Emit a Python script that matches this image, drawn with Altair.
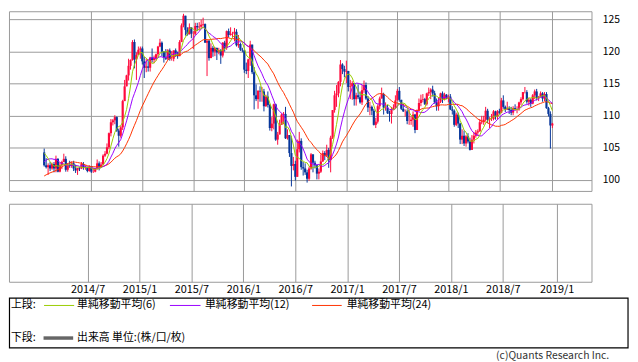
import altair as alt
import pandas as pd

FONT = "Noto Sans CJK JP"
RED = "#ff0a3c"
BLUE = "#06369a"
GREEN = "#99cc00"
PURPLE = "#9900ff"
ORANGE = "#ff3300"
GRID = "#999999"

# weekly closes before the first drawn candle (used only for the moving averages)
pre_close = [97.5, 98.7, 98.1, 99.6, 99.4, 99.4, 98.3, 97.5, 98.6, 97.7, 97.4, 98.7, 99.1,
             100.2, 101.3, 102.4, 102.9, 103.2, 104.1, 105.2, 104.9, 104.2, 104.3]

close_2014 = [102.3, 102.0, 102.3, 101.8, 102.5, 101.8, 103.3, 101.3, 102.3, 102.8, 103.3, 101.6, 102.4,
              102.2, 102.6, 101.8, 101.5, 101.9, 101.8, 102.5, 102.0, 102.0, 101.4, 102.1, 101.3, 101.3,
              101.8, 102.6, 102.0, 102.4, 103.8, 104.1, 105.1, 107.3, 109.0, 109.3, 109.8, 107.7, 106.9,
              108.2, 112.3, 114.6, 116.3, 117.8, 118.7, 121.5, 118.8, 119.5, 120.3, 120.5]
high_2014 = [104.9, 103.4, 102.6, 102.8, 102.7, 102.8, 103.8, 103.4, 102.7, 103.0, 104.1, 103.7, 102.6,
             103.0, 102.9, 103.0, 102.4, 101.9, 102.0, 102.8, 102.8, 102.3, 102.1, 102.3, 102.2, 101.9,
             101.9, 103.2, 102.9, 102.8, 104.0, 104.5, 105.7, 107.4, 109.5, 109.5, 110.1, 109.9, 108.0,
             108.4, 112.5, 115.6, 116.4, 118.9, 118.8, 121.8, 121.9, 119.9, 120.8, 120.8]
low_2014 = [102.1, 101.8, 100.8, 101.4, 101.6, 101.2, 101.2, 101.2, 101.2, 101.7, 102.8, 101.3, 101.3,
            101.9, 101.9, 101.4, 101.1, 100.8, 101.4, 101.7, 101.6, 101.6, 101.2, 101.3, 101.1, 101.1,
            101.2, 101.6, 101.5, 102.0, 102.4, 103.6, 104.0, 104.8, 106.8, 108.5, 108.7, 107.5, 105.2,
            106.6, 107.8, 112.6, 114.6, 115.5, 117.2, 118.6, 117.4, 115.6, 119.5, 118.9]

close_2015 = [118.5, 117.5, 117.7, 117.5, 119.1, 118.7, 119.0, 119.6, 120.8, 121.4, 120.0, 119.1, 118.9,
              120.2, 118.9, 118.9, 120.2, 119.8, 119.3, 121.5, 124.1, 125.6, 123.4, 122.7, 123.8, 122.8,
              122.8, 124.0, 123.8, 123.9, 124.2, 124.3, 121.4, 121.7, 119.0, 120.6, 120.0, 120.6, 119.9,
              120.2, 119.4, 121.4, 120.6, 123.2, 122.6, 122.8, 122.8, 123.1, 121.0, 121.2, 120.3, 120.2]
high_2015 = [120.8, 119.2, 118.9, 118.6, 119.2, 120.5, 119.4, 119.7, 120.9, 122.0, 121.6, 120.1, 120.4,
             120.4, 120.5, 120.1, 120.2, 120.5, 120.0, 121.8, 124.4, 125.9, 125.6, 123.8, 124.4, 123.7,
             123.2, 124.5, 124.5, 124.6, 125.0, 125.3, 124.4, 121.8, 121.8, 121.3, 120.9, 120.7, 120.6,
             120.6, 120.4, 121.5, 121.7, 123.3, 123.6, 123.8, 123.1, 123.7, 123.5, 122.6, 121.4, 120.6]
low_2015 = [118.0, 115.9, 116.8, 116.9, 116.9, 118.3, 118.2, 118.6, 119.2, 120.7, 119.3, 118.3, 118.7,
            118.7, 118.6, 118.6, 118.5, 119.2, 118.9, 119.6, 121.5, 123.8, 122.5, 122.5, 122.9, 122.1,
            120.4, 122.6, 123.2, 123.3, 123.6, 123.9, 121.4, 116.2, 118.6, 119.1, 119.2, 119.3, 118.7,
            119.6, 118.1, 119.1, 120.0, 120.3, 122.2, 122.5, 122.2, 121.6, 120.8, 120.6, 120.1, 119.9]

close_2016 = [117.2, 117.0, 118.8, 121.1, 116.8, 113.2, 112.6, 113.9, 113.8, 113.8, 111.5, 113.0, 111.7,
              108.1, 108.8, 111.8, 106.3, 107.1, 108.6, 110.2, 110.3, 106.5, 107.0, 104.2, 102.2, 102.5,
              100.5, 104.8, 106.1, 102.0, 101.8, 101.2, 100.2, 101.8, 104.0, 102.7, 102.3, 101.0, 101.3,
              102.9, 104.2, 103.8, 104.7, 103.1, 106.6, 110.9, 113.2, 113.5, 115.3, 118.0, 117.3, 116.9]
high_2016 = [120.2, 118.3, 118.9, 121.7, 121.0, 117.6, 114.9, 114.0, 114.6, 114.5, 114.2, 113.3, 113.8,
             111.9, 109.8, 111.9, 111.9, 107.5, 109.4, 110.4, 110.6, 111.4, 107.9, 107.0, 106.8, 103.6,
             103.0, 106.3, 107.5, 106.5, 102.8, 102.6, 101.6, 102.1, 104.2, 104.0, 103.0, 102.4, 101.8,
             104.0, 104.6, 104.5, 105.5, 105.0, 106.9, 110.9, 113.9, 114.8, 115.4, 118.7, 118.2, 117.8]
low_2016 = [116.7, 116.5, 115.9, 117.8, 116.5, 111.0, 112.3, 111.1, 112.2, 112.2, 110.7, 111.4, 111.3,
            107.7, 107.6, 107.9, 106.1, 105.5, 107.8, 108.7, 108.7, 106.4, 106.3, 103.6, 99.0, 101.5,
            99.9, 100.6, 104.3, 101.6, 100.7, 100.8, 99.6, 99.9, 101.6, 101.2, 101.8, 100.1, 100.1,
            101.1, 102.8, 103.1, 103.6, 101.9, 101.2, 106.4, 110.5, 111.4, 112.9, 114.6, 116.5, 116.0]

close_2017 = [117.0, 114.5, 114.6, 115.1, 112.6, 113.2, 112.9, 112.1, 114.0, 114.8, 112.7, 111.3, 111.4,
              110.8, 108.6, 109.1, 111.5, 112.7, 113.4, 111.3, 111.3, 110.4, 110.3, 110.9, 111.3, 112.4,
              113.9, 112.5, 111.1, 110.7, 110.7, 109.2, 109.2, 109.4, 110.2, 107.8, 110.8, 112.0, 112.5,
              112.6, 111.8, 113.5, 113.7, 114.1, 113.5, 112.1, 111.5, 112.2, 113.5, 112.6, 113.3, 112.7]
high_2017 = [118.6, 116.9, 115.6, 115.4, 115.0, 113.6, 114.9, 113.8, 114.8, 115.5, 115.2, 113.1, 112.2,
             111.6, 111.1, 109.7, 111.8, 113.0, 114.4, 113.6, 112.1, 111.7, 110.8, 111.4, 111.8, 113.2,
             114.2, 114.5, 112.5, 111.9, 111.0, 111.0, 110.9, 109.9, 110.7, 110.3, 111.0, 112.7, 113.3,
             113.4, 112.8, 113.6, 114.4, 114.3, 114.7, 113.9, 112.7, 112.9, 113.6, 113.8, 113.6, 113.4]
low_2017 = [115.1, 113.8, 112.6, 112.5, 111.6, 111.6, 112.6, 111.9, 111.7, 113.6, 112.5, 110.6, 110.1,
            110.1, 108.5, 108.1, 108.8, 111.0, 112.8, 110.2, 110.8, 110.3, 109.1, 108.8, 110.9, 111.2,
            112.4, 112.2, 110.9, 110.6, 109.9, 108.7, 108.6, 108.6, 108.3, 107.3, 107.8, 110.8, 111.5,
            112.1, 111.7, 111.6, 113.1, 112.6, 113.0, 111.9, 110.8, 110.8, 112.0, 112.0, 112.4, 112.6]

close_2018 = [113.0, 111.0, 110.8, 108.6, 110.2, 108.8, 106.3, 106.9, 105.7, 106.8, 106.0, 104.7, 106.3,
              106.9, 107.4, 107.6, 109.0, 109.1, 109.4, 110.8, 109.4, 109.5, 109.5, 110.7, 109.9, 110.7,
              110.5, 112.4, 111.4, 111.0, 111.2, 110.9, 110.5, 111.2, 111.0, 111.0, 112.1, 112.6, 113.7,
              113.7, 112.2, 112.5, 111.9, 113.2, 113.8, 112.8, 112.9, 113.5, 112.7, 113.4, 111.2, 110.3,
              108.5]
high_2018 = [113.3, 113.4, 111.5, 111.0, 110.5, 110.5, 108.9, 107.9, 107.7, 107.0, 107.3, 106.6, 107.0,
             107.5, 107.8, 107.9, 109.5, 110.0, 110.0, 111.4, 111.1, 109.8, 110.3, 110.9, 110.8, 110.9,
             111.1, 112.8, 113.2, 111.6, 112.2, 111.5, 111.4, 111.5, 111.8, 111.5, 112.2, 112.9, 113.7,
             114.5, 114.0, 112.8, 112.7, 113.4, 114.1, 114.2, 113.1, 113.8, 113.7, 113.7, 113.7, 111.4,
             110.7]
low_2018 = [112.1, 110.9, 110.2, 108.3, 108.4, 108.1, 105.6, 105.6, 105.3, 105.2, 105.7, 104.6, 104.7,
            105.7, 106.6, 106.9, 107.5, 108.7, 108.6, 109.2, 108.9, 108.1, 109.2, 109.3, 109.4, 109.4,
            110.3, 110.4, 111.1, 110.6, 110.9, 110.3, 110.1, 110.1, 110.8, 110.4, 110.8, 111.7, 112.4,
            113.5, 111.9, 111.6, 111.4, 111.8, 112.6, 112.4, 112.3, 113.2, 112.2, 112.3, 111.1, 109.9,
            104.9]

close_2019 = [108.8]
high_2019 = [108.9]
low_2019 = [108.1]

tick_dates = [(2014, 7, 7), (2015, 1, 5), (2015, 7, 6), (2016, 1, 4), (2016, 7, 4),
              (2017, 1, 2), (2017, 7, 3), (2018, 1, 1), (2018, 7, 2), (2019, 1, 7)]
price_ticks = [100, 105, 110, 115, 120, 125]

legend_upper = "上段:"
legend_lower = "下段:"
ma_labels = ["単純移動平均(6)", "単純移動平均(12)", "単純移動平均(24)"]
volume_label = "出来高 単位:(株/口/枚)"
copyright_text = "(c)Quants Research Inc."

closes = close_2014 + close_2015 + close_2016 + close_2017 + close_2018 + close_2019
highs = high_2014 + high_2015 + high_2016 + high_2017 + high_2018 + high_2019
lows = low_2014 + low_2015 + low_2016 + low_2017 + low_2018 + low_2019
opens = [pre_close[-1]] + closes[:-1]

n_pre = len(pre_close)
series = pd.Series(pre_close + closes)
df = pd.DataFrame({
    "date": pd.date_range("2014-01-20", periods=len(closes), freq="7D"),
    "open": opens,
    "close": closes,
    "high": [max(h, o, c) for h, o, c in zip(highs, opens, closes)],
    "low": [min(l, o, c) for l, o, c in zip(lows, opens, closes)],
    "ma6": series.rolling(6).mean().iloc[n_pre:].round(3).values,
    "ma12": series.rolling(12).mean().iloc[n_pre:].round(3).values,
    "ma24": series.rolling(24).mean().iloc[n_pre:].round(3).values,
})

x_dom = [alt.DateTime(year=2013, month=10, date=4), alt.DateTime(year=2019, month=5, date=9)]
tick_vals = [alt.DateTime(year=y, month=m, date=d) for y, m, d in tick_dates]

W = 590
xs = alt.Scale(domain=x_dom)
ys = alt.Scale(domain=[98.3, 126.3], nice=False, zero=False)
color = alt.condition("datum.close >= datum.open", alt.value(RED), alt.value(BLUE))

x_axis_top = alt.Axis(values=tick_vals, labels=False, ticks=False, domain=False, grid=True)
y_axis_top = alt.Axis(orient="right", values=price_ticks, grid=True, ticks=False, domain=False,
                      labelPadding=11, labelFontSize=10.5, labelOverlap=False, labelFlush=False)


def xe():
    return alt.X("date:T", scale=xs, title=None, axis=x_axis_top)


def ye(field):
    return alt.Y(field, type="quantitative", scale=ys, title=None, axis=y_axis_top)


base = alt.Chart(df)
wick = base.mark_rule(strokeWidth=1).encode(x=xe(), y=ye("low"), y2="high:Q", color=color)
body = base.mark_bar(size=2.2).encode(x=xe(), y=ye("open"), y2="close:Q", color=color)
l24 = base.mark_line(color=ORANGE, strokeWidth=1).encode(x=xe(), y=ye("ma24"))
l12 = base.mark_line(color=PURPLE, strokeWidth=1).encode(x=xe(), y=ye("ma12"))
l6 = base.mark_line(color=GREEN, strokeWidth=1).encode(x=xe(), y=ye("ma6"))
top = alt.layer(wick, body, l24, l12, l6).properties(width=W, height=182)

bottom = alt.Chart(df).mark_point(opacity=0).encode(
    x=alt.X("date:T", scale=alt.Scale(domain=x_dom), title=None,
            axis=alt.Axis(values=tick_vals, format="%Y/%-m", labelFontSize=11, labelPadding=2,
                          ticks=False, domain=False, grid=True, labelFlush=False, labelOverlap=False))
).properties(width=W, height=79)

lg = alt.Chart(pd.DataFrame({"k": [0]}))


def txt(s, x, y, align="left", size=11, color="black"):
    return lg.mark_text(text=s, align=align, baseline="middle", fontSize=size, font=FONT,
                        color=color).encode(x=alt.value(x), y=alt.value(y))


def seg(x1, x2, y, col, w=1):
    return lg.mark_rule(color=col, strokeWidth=w).encode(x=alt.value(x1), x2=alt.value(x2), y=alt.value(y))


R1, R2 = 9, 42
box = lg.mark_rect(filled=False, stroke="black", strokeWidth=1.2).encode(
    x=alt.value(0.5), x2=alt.value(627), y=alt.value(1.5), y2=alt.value(52))
legend = alt.layer(
    box,
    txt(legend_upper, 2, R1),
    seg(35.5, 66, R1, GREEN), txt(ma_labels[0], 69, R1),
    seg(163, 194, R1, PURPLE), txt(ma_labels[1], 198.5, R1),
    seg(307, 337, R1, ORANGE), txt(ma_labels[2], 342, R1),
    txt(legend_lower, 2, R2),
    seg(35, 65, R2, "#666666", 3.5), txt(volume_label, 69, R2),
    txt(copyright_text, 608, 60, align="right", size=10.5, color="#333333"),
).properties(width=627, height=64, view=alt.ViewBackground(stroke="transparent"))

chart = alt.vconcat(
    alt.vconcat(top, bottom, spacing=11),
    legend, spacing=0
).properties(padding=0).configure_view(stroke=GRID, strokeWidth=1).configure_axis(
    labelFont=FONT, labelColor="black", gridColor=GRID, gridWidth=1
)

chart.save("out.html", embed_options={"renderer": "svg", "actions": False})
